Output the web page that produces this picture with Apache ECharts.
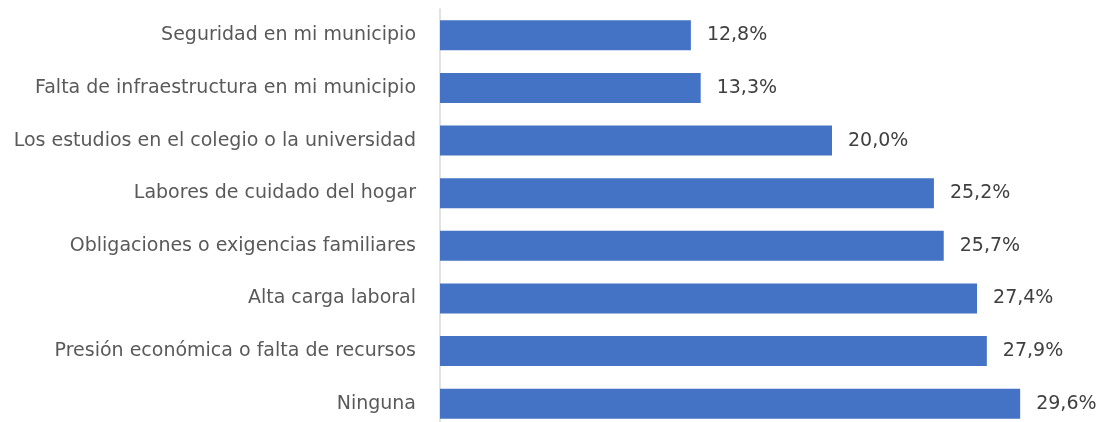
<!DOCTYPE html>
<html><head><meta charset="utf-8">
<script src="https://cdn.jsdelivr.net/npm/echarts@6/dist/echarts.min.js"></script>
<style>html,body{margin:0;padding:0;background:#fff}#c{width:1100px;height:422px}</style>
</head><body><div id="c"></div>
<script>
const categories = ["Ninguna","Presión económica o falta de recursos","Alta carga laboral","Obligaciones o exigencias familiares","Labores de cuidado del hogar","Los estudios en el colegio o la universidad","Falta de infraestructura en mi municipio","Seguridad en mi municipio"];
const values = [29.6,27.9,27.4,25.7,25.2,20.0,13.3,12.8];
const FONT = 'DejaVu Sans';
const chart = echarts.init(document.getElementById('c'));
chart.setOption({
  animation:false,
  grid:{left:440,width:588,top:9,height:421,containLabel:false,outerBoundsMode:'none'},
  xAxis:{type:'value',min:0,max:30,show:false},
  yAxis:{type:'category',data:categories,
    axisLine:{show:true,lineStyle:{color:'#d9d9d9',width:1.5}},
    axisTick:{show:false},
    axisLabel:{color:'#595959',fontFamily:FONT,fontSize:19,margin:24}},
  series:[{type:'bar',data:values,barWidth:30,itemStyle:{color:'#4472c4'},
    label:{show:true,position:'right',distance:16,color:'#404040',fontFamily:FONT,fontSize:19,
      formatter:p=>p.value.toFixed(1).replace('.',',')+'%'}}]
});
</script></body></html>
